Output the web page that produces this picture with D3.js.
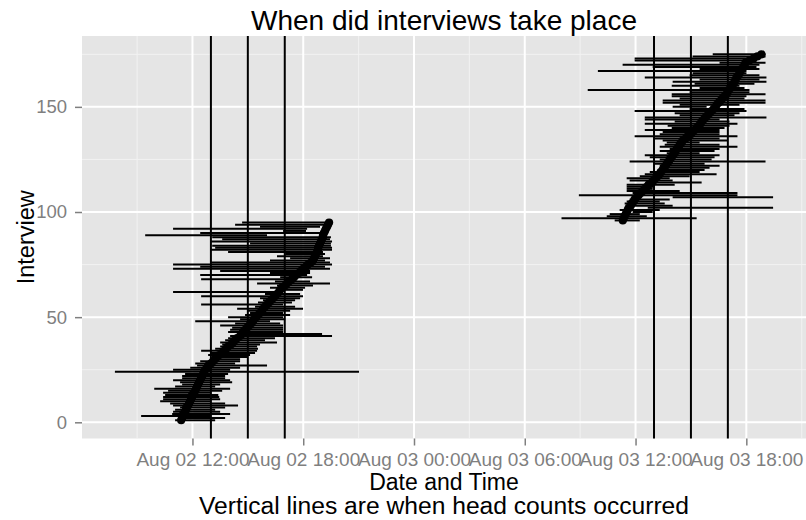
<!DOCTYPE html>
<html>
<head>
<meta charset="utf-8">
<script src="https://cdn.jsdelivr.net/npm/d3@7"></script>
<style>
  body { margin: 0; background: #fff; }
  text { font-family: "Liberation Sans", Arial, sans-serif; }
</style>
</head>
<body>
<div id="chart"></div>
<script>
// times are hours counted from Aug 02 00:00
const startHours = [
  11.06, 11.23, 9.22, 10.90, 10.95, 11.06, 11.33, 10.95, 10.79, 10.25,
  10.41, 10.41, 10.52, 10.41, 10.68, 9.93, 11.06, 11.44, 11.33, 10.95,
  11.44, 11.44, 11.60, 7.80, 10.95, 11.88, 12.25, 12.15, 12.42, 12.96,
  13.12, 12.85, 12.96, 12.47, 13.23, 13.50, 13.61, 13.50, 13.77, 13.93,
  14.04, 14.58, 13.93, 14.04, 14.15, 13.50, 14.31, 12.15, 14.58, 13.93,
  14.85, 15.12, 15.01, 14.42, 15.39, 12.47, 15.55, 15.82, 15.66, 12.47,
  15.93, 10.95, 16.58, 16.20, 16.58, 15.50, 16.47, 12.47, 16.75, 12.42,
  16.20, 13.50, 10.95, 12.42, 10.95, 12.96, 16.20, 17.29, 16.58, 17.02,
  13.93, 12.96, 13.23, 13.07, 15.12, 12.96, 13.61, 13.07, 9.44, 12.42,
  16.91, 10.95, 15.66, 14.31, 14.69,
  34.87, 31.99, 34.44, 34.60, 35.84, 35.14, 36.66, 35.52, 35.41, 35.52,
  35.68, 38.01, 32.93, 35.84, 35.52, 35.52, 35.52, 35.52, 36.93, 35.68,
  35.52, 36.23, 36.50, 36.77, 37.31, 37.69, 37.31, 37.04, 35.68, 37.31,
  36.77, 36.50, 37.69, 37.31, 37.85, 37.31, 37.58, 37.69, 37.47, 37.04,
  35.95, 37.31, 37.47, 36.50, 37.96, 37.74, 36.50, 38.12, 36.50, 36.50,
  38.39, 38.12, 35.95, 38.93, 38.01, 38.39, 37.47, 37.47, 38.39, 37.96,
  37.96, 38.93, 33.41, 39.47, 37.96, 39.20, 38.01, 39.47, 36.50, 38.93,
  39.09, 33.96, 39.47, 36.93, 35.30, 40.55, 35.95, 35.95, 39.09, 40.18
];

const endHours = [
  13.23, 13.77, 12.96, 14.04, 13.50, 13.23, 13.77, 14.47, 13.77, 12.96,
  13.50, 13.45, 13.40, 12.96, 13.61, 14.04, 13.23, 13.50, 14.15, 14.04,
  13.77, 13.77, 13.93, 21.02, 14.04, 14.58, 16.04, 14.31, 14.58, 14.58,
  14.96, 15.12, 15.39, 15.50, 15.55, 15.50, 15.66, 16.58, 15.93, 16.47,
  19.56, 19.02, 16.91, 16.91, 16.91, 16.91, 16.75, 16.20, 17.02, 16.91,
  17.29, 16.91, 17.29, 17.99, 17.56, 16.91, 17.39, 17.56, 17.83, 17.99,
  17.83, 16.58, 17.99, 18.10, 18.53, 19.45, 18.37, 17.67, 18.48, 18.21,
  18.37, 18.37, 19.45, 19.18, 19.56, 19.45, 19.18, 19.45, 19.07, 19.18,
  19.07, 19.56, 19.56, 19.50, 19.50, 19.56, 19.45, 19.50, 16.04, 18.91,
  18.15, 18.21, 18.91, 19.18, 19.34,
  36.23, 39.31, 36.61, 36.23, 36.93, 37.31, 43.45, 38.01, 37.58, 37.31,
  37.85, 43.45, 41.52, 41.52, 38.39, 36.93, 37.04, 38.12, 39.58, 38.01,
  37.85, 38.93, 40.39, 39.47, 39.74, 40.01, 40.55, 39.74, 43.04, 40.12,
  40.28, 40.55, 39.47, 40.28, 40.55, 41.52, 40.55, 39.47, 40.98, 40.55,
  41.52, 40.55, 40.55, 40.55, 40.82, 41.09, 41.52, 41.09, 40.55, 43.09,
  41.36, 41.63, 42.01, 41.90, 39.85, 41.63, 43.04, 43.04, 41.90, 42.01,
  43.04, 42.17, 42.17, 41.90, 41.63, 42.44, 43.09, 42.71, 43.09, 42.71,
  42.01, 42.01, 42.71, 42.55, 42.71, 43.04, 42.55, 42.71, 43.04, 43.04
];

const pointHours = [
  11.39, 11.44, 11.50, 11.50, 11.60, 11.66, 11.66, 11.77, 11.82, 11.88,
  11.93, 11.98, 11.98, 12.09, 12.15, 12.20, 12.25, 12.31, 12.36, 12.42,
  12.47, 12.53, 12.58, 12.63, 12.69, 12.80, 12.85, 13.01, 13.12, 13.23,
  13.34, 13.45, 13.61, 13.72, 13.83, 13.93, 14.09, 14.20, 14.31, 14.42,
  14.58, 14.69, 14.74, 14.85, 14.96, 15.07, 15.18, 15.28, 15.34, 15.45,
  15.55, 15.66, 15.77, 15.82, 15.93, 16.04, 16.15, 16.26, 16.37, 16.47,
  16.58, 16.69, 16.75, 16.85, 17.02, 17.12, 17.23, 17.39, 17.50, 17.61,
  17.77, 17.88, 17.99, 18.15, 18.26, 18.42, 18.53, 18.58, 18.64, 18.69,
  18.75, 18.80, 18.80, 18.86, 18.91, 18.96, 19.01, 19.07, 19.07, 19.12,
  19.18, 19.23, 19.29, 19.34, 19.40,
  35.31, 35.36, 35.41, 35.47, 35.52, 35.58, 35.63, 35.74, 35.79, 35.90,
  35.95, 36.06, 36.17, 36.28, 36.39, 36.50, 36.61, 36.71, 36.88, 36.98,
  37.09, 37.20, 37.31, 37.36, 37.47, 37.53, 37.63, 37.69, 37.80, 37.85,
  37.96, 38.01, 38.12, 38.17, 38.23, 38.34, 38.39, 38.50, 38.55, 38.72,
  38.82, 38.99, 39.09, 39.20, 39.31, 39.42, 39.52, 39.58, 39.69, 39.79,
  39.90, 40.01, 40.12, 40.23, 40.34, 40.39, 40.50, 40.61, 40.71, 40.82,
  40.93, 40.98, 41.04, 41.15, 41.20, 41.31, 41.36, 41.42, 41.47, 41.58,
  41.63, 41.69, 41.74, 41.85, 41.90, 41.96, 42.17, 42.39, 42.60, 42.82
];

const headCountHours = [13, 15, 17, 37, 39, 41];

const xMajorHours = [12, 18, 24, 30, 36, 42];
const xMinorHours = [9, 15, 21, 27, 33, 39, 45];
const yMajor = [0, 50, 100, 150];
const yMinor = [25, 75, 125, 175];

const base = Date.UTC(2014, 7, 2);
const toDate = h => new Date(base + h * 3600000);

const interviews = startHours.map((s, i) => ({
  id: i + 1,
  start: toDate(s),
  end: toDate(endHours[i]),
  point: toDate(pointHours[i])
}));

const W = 806, H = 520;
const margin = { top: 36, right: 0, bottom: 81.5, left: 82 };
const width = W - margin.left - margin.right;
const height = H - margin.top - margin.bottom;

const svgRoot = d3.select("#chart")
  .append("svg")
  .attr("width", W)
  .attr("height", H);

const svg = svgRoot.append("g")
  .attr("transform", `translate(${margin.left},${margin.top})`);

// ggplot style 5% expansion
const tMin = d3.min(startHours), tMax = d3.max(endHours);
const tPad = (tMax - tMin) * 0.05;
const x = d3.scaleUtc()
  .domain([toDate(tMin - tPad), toDate(tMax + tPad)])
  .range([0, width]);

const idMin = 1, idMax = interviews.length;
const idPad = (idMax - idMin) * 0.05;
const y = d3.scaleLinear()
  .domain([idMin - idPad, idMax + idPad])
  .range([height, 0]);

svg.append("rect")
  .attr("width", width)
  .attr("height", height)
  .attr("fill", "#E5E5E5");

// minor grid
svg.selectAll(".xminor").data(xMinorHours).enter().append("line")
  .attr("x1", d => x(toDate(d))).attr("x2", d => x(toDate(d)))
  .attr("y1", 0).attr("y2", height)
  .attr("stroke", "#F2F2F2").attr("stroke-width", 1);
svg.selectAll(".yminor").data(yMinor).enter().append("line")
  .attr("x1", 0).attr("x2", width)
  .attr("y1", d => y(d)).attr("y2", d => y(d))
  .attr("stroke", "#F2F2F2").attr("stroke-width", 1);

// major grid
svg.selectAll(".xmajor").data(xMajorHours).enter().append("line")
  .attr("x1", d => x(toDate(d))).attr("x2", d => x(toDate(d)))
  .attr("y1", 0).attr("y2", height)
  .attr("stroke", "#fff").attr("stroke-width", 2);
svg.selectAll(".ymajor").data(yMajor).enter().append("line")
  .attr("x1", 0).attr("x2", width)
  .attr("y1", d => y(d)).attr("y2", d => y(d))
  .attr("stroke", "#fff").attr("stroke-width", 2);

// interview spans
svg.selectAll(".seg").data(interviews).enter().append("line")
  .attr("x1", d => x(d.start)).attr("x2", d => x(d.end))
  .attr("y1", d => y(d.id)).attr("y2", d => y(d.id))
  .attr("stroke", "#000").attr("stroke-width", 2);

svg.selectAll(".pt").data(interviews).enter().append("circle")
  .attr("cx", d => x(d.point))
  .attr("cy", d => y(d.id))
  .attr("r", 4.1)
  .attr("fill", "#000");

// head counts
svg.selectAll(".vline").data(headCountHours).enter().append("line")
  .attr("x1", d => x(toDate(d))).attr("x2", d => x(toDate(d)))
  .attr("y1", 0).attr("y2", height)
  .attr("stroke", "#000").attr("stroke-width", 2);

// axes
const xAxis = d3.axisBottom(x)
  .tickValues(xMajorHours.map(toDate))
  .tickFormat(d3.utcFormat("%b %d %H:%M"))
  .tickSize(7)
  .tickPadding(7);
const gx = svg.append("g")
  .attr("transform", `translate(0,${height})`)
  .call(xAxis);
gx.select(".domain").remove();
gx.selectAll("line").attr("stroke", "#7F7F7F").attr("stroke-width", 1.5);
gx.selectAll("text").attr("fill", "#7F7F7F").style("font-size", "19px")
  .style("font-family", "'Liberation Sans', Arial, sans-serif");

const yAxis = d3.axisLeft(y)
  .tickValues(yMajor)
  .tickSize(7)
  .tickPadding(8);
const gy = svg.append("g").call(yAxis);
gy.select(".domain").remove();
gy.selectAll("line").attr("stroke", "#7F7F7F").attr("stroke-width", 1.5);
gy.selectAll("text").attr("fill", "#7F7F7F").style("font-size", "18.5px")
  .style("font-family", "'Liberation Sans', Arial, sans-serif");

// titles
const cx = margin.left + width / 2;
svgRoot.append("text")
  .attr("x", cx).attr("y", 30)
  .attr("text-anchor", "middle")
  .style("font-size", "28px")
  .text("When did interviews take place");

svgRoot.append("text")
  .attr("x", cx).attr("y", 490)
  .attr("text-anchor", "middle")
  .style("font-size", "23px")
  .text("Date and Time");

svgRoot.append("text")
  .attr("x", cx).attr("y", 514)
  .attr("text-anchor", "middle")
  .attr("textLength", 490)
  .attr("lengthAdjust", "spacingAndGlyphs")
  .style("font-size", "23.5px")
  .text("Vertical lines are when head counts occurred");

svgRoot.append("text")
  .attr("transform", `translate(34,${margin.top + height / 2}) rotate(-90)`)
  .attr("text-anchor", "middle")
  .style("font-size", "23.5px")
  .text("Interview");
</script>
</body>
</html>
